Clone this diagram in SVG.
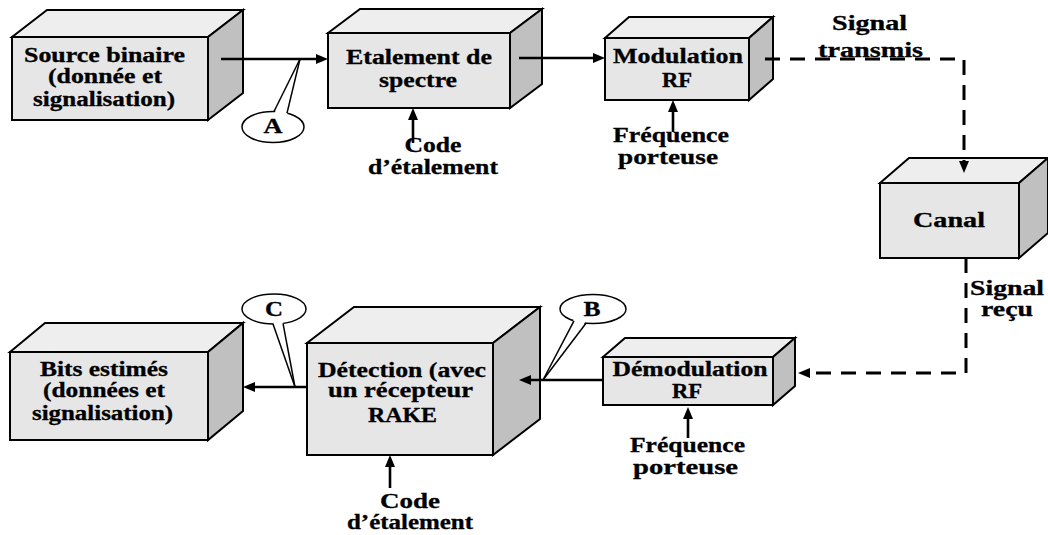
<svg xmlns="http://www.w3.org/2000/svg" width="1048" height="535" viewBox="0 0 1048 535">
  <style>
    .front { fill: #e6e6e6; stroke: #000; stroke-width: 2; stroke-linejoin: miter; }
    .top { fill: #eeeeee; stroke: #000; stroke-width: 2; stroke-linejoin: miter; }
    .side { fill: #c0c0c0; stroke: #000; stroke-width: 2; stroke-linejoin: miter; }
    text { font-family: "Liberation Serif", "Noto Serif", "DejaVu Serif", "Times New Roman", serif; font-weight: 700; font-size: 20px; fill: #000; stroke: #000; stroke-width: 0.3; text-anchor: middle; }
    .flow { fill: none; stroke: #000; stroke-width: 2.6; }
    .dash { fill: none; stroke: #000; stroke-width: 3; stroke-dasharray: 15 10; }
    .bubble { fill: #fff; stroke: #000; stroke-width: 1.5; }
    .tail { fill: #fff; stroke: none; }
    .tailedge { fill: none; stroke: #000; stroke-width: 1.5; }
  </style>
  <defs>
    <marker id="head" markerUnits="userSpaceOnUse" markerWidth="14" markerHeight="12" refX="2" refY="5" orient="auto">
      <path d="M0,0 L12,5 L0,10 z" fill="#000"/>
    </marker>
  </defs>

  <rect width="1048" height="535" fill="#fff"/>

  <!-- Transmitter chain -->
  <g id="source">
    <polygon class="top" points="12,37 47,10 243,10 208,37"/>
    <polygon class="side" points="208,37 243,10 243,93 208,120"/>
    <rect class="front" x="12" y="37" width="196" height="83"/>
    <text x="104.5" y="62" textLength="161" lengthAdjust="spacingAndGlyphs">Source binaire</text>
    <text x="105" y="83" textLength="114" lengthAdjust="spacingAndGlyphs">(donnée et</text>
    <text x="104" y="106" textLength="142" lengthAdjust="spacingAndGlyphs">signalisation)</text>
  </g>

  <g id="etalement">
    <polygon class="top" points="328,33 360,9 542,9 510,33"/>
    <polygon class="side" points="510,33 542,9 542,84 510,108"/>
    <rect class="front" x="328" y="33" width="182" height="75"/>
    <text x="419" y="64" textLength="146" lengthAdjust="spacingAndGlyphs">Etalement de</text>
    <text x="418" y="87" textLength="78" lengthAdjust="spacingAndGlyphs">spectre</text>
  </g>

  <g id="code-tx">
    <text x="433" y="152" textLength="57" lengthAdjust="spacingAndGlyphs">Code</text>
    <text x="433" y="174" textLength="130" lengthAdjust="spacingAndGlyphs">d’étalement</text>
  </g>

  <g id="modulation">
    <polygon class="top" points="605,38 629,17 773,17 749,38"/>
    <polygon class="side" points="749,38 773,17 773,79 749,100"/>
    <rect class="front" x="605" y="38" width="144" height="62"/>
    <text x="678" y="63" textLength="130" lengthAdjust="spacingAndGlyphs">Modulation</text>
    <text x="677" y="87" textLength="30" lengthAdjust="spacingAndGlyphs">RF</text>
  </g>

  <g id="freq-tx">
    <text x="671" y="142" textLength="116" lengthAdjust="spacingAndGlyphs">Fréquence</text>
    <text x="668" y="164" textLength="100" lengthAdjust="spacingAndGlyphs">porteuse</text>
  </g>

  <g id="label-transmis">
    <text x="869.5" y="30" textLength="75" lengthAdjust="spacingAndGlyphs">Signal</text>
    <text x="870.5" y="57" textLength="105" lengthAdjust="spacingAndGlyphs">transmis</text>
  </g>

  <g id="canal">
    <polygon class="top" points="880,183 909,158 1048,158 1019,183"/>
    <polygon class="side" points="1019,183 1048,158 1048,233 1019,258"/>
    <rect class="front" x="880" y="183" width="139" height="75"/>
    <text x="949" y="227" textLength="72" lengthAdjust="spacingAndGlyphs">Canal</text>
  </g>

  <g id="label-recu">
    <text x="1007" y="295" textLength="74" lengthAdjust="spacingAndGlyphs">Signal</text>
    <text x="1007" y="316" textLength="52" lengthAdjust="spacingAndGlyphs">reçu</text>
  </g>

  <!-- Receiver chain -->
  <g id="demodulation">
    <polygon class="top" points="603,357 625,338 795,338 773,357"/>
    <polygon class="side" points="773,357 795,338 795,386 773,405"/>
    <rect class="front" x="603" y="357" width="170" height="48"/>
    <text x="690" y="376" textLength="155" lengthAdjust="spacingAndGlyphs">Démodulation</text>
    <text x="687" y="398" textLength="30" lengthAdjust="spacingAndGlyphs">RF</text>
  </g>

  <g id="freq-rx">
    <text x="687.5" y="452" textLength="115" lengthAdjust="spacingAndGlyphs">Fréquence</text>
    <text x="685.5" y="474" textLength="105" lengthAdjust="spacingAndGlyphs">porteuse</text>
  </g>

  <g id="detection">
    <polygon class="top" points="307,343 354,307 540,307 493,343"/>
    <polygon class="side" points="493,343 540,307 540,419 493,455"/>
    <rect class="front" x="307" y="343" width="186" height="112"/>
    <text x="402" y="377" textLength="168" lengthAdjust="spacingAndGlyphs">Détection (avec</text>
    <text x="400.5" y="397" textLength="145" lengthAdjust="spacingAndGlyphs">un récepteur</text>
    <text x="402.5" y="422" textLength="69" lengthAdjust="spacingAndGlyphs">RAKE</text>
  </g>

  <g id="code-rx">
    <text x="410" y="508" textLength="60" lengthAdjust="spacingAndGlyphs">Code</text>
    <text x="410" y="529" textLength="126" lengthAdjust="spacingAndGlyphs">d’étalement</text>
  </g>

  <g id="bits">
    <polygon class="top" points="10,352 45,323 243,323 208,352"/>
    <polygon class="side" points="208,352 243,323 243,411 208,440"/>
    <rect class="front" x="10" y="352" width="198" height="88"/>
    <text x="104" y="376" textLength="128" lengthAdjust="spacingAndGlyphs">Bits estimés</text>
    <text x="104" y="397" textLength="122" lengthAdjust="spacingAndGlyphs">(données et</text>
    <text x="102.5" y="420" textLength="141" lengthAdjust="spacingAndGlyphs">signalisation)</text>
  </g>

  <!-- Connectors -->
  <g id="connectors">
    <line class="flow" x1="221" y1="59" x2="318" y2="59" marker-end="url(#head)"/>
    <line class="flow" x1="519" y1="58" x2="595" y2="58" marker-end="url(#head)"/>
    <line class="flow" x1="413" y1="143" x2="413" y2="118" marker-end="url(#head)"/>
    <line class="flow" x1="673" y1="132" x2="673" y2="110" marker-end="url(#head)"/>
    <polyline class="dash" points="765,59 964,59 964,163" marker-end="url(#head)"/>
    <polyline class="dash" points="966,258 966,373 808,373" marker-end="url(#head)"/>
    <line class="flow" x1="603" y1="380" x2="529" y2="380" marker-end="url(#head)"/>
    <line class="flow" x1="688" y1="438" x2="688" y2="417" marker-end="url(#head)"/>
    <line class="flow" x1="307" y1="387" x2="253" y2="387" marker-end="url(#head)"/>
    <line class="flow" x1="390" y1="488" x2="390" y2="465" marker-end="url(#head)"/>
  </g>

  <!-- Measurement point callouts -->
  <g id="callout-a">
    <ellipse class="bubble" cx="273" cy="127" rx="31" ry="15.5"/>
    <polygon class="tail" points="300,59 274,114 287,115"/>
    <line class="tailedge" x1="300" y1="59" x2="274" y2="111.5"/>
    <line class="tailedge" x1="300" y1="59" x2="287" y2="113.2"/>
    <text x="273" y="133" textLength="19" lengthAdjust="spacingAndGlyphs">A</text>
  </g>

  <g id="callout-b">
    <ellipse class="bubble" cx="593" cy="309" rx="33" ry="14.5"/>
    <polygon class="tail" points="543,380 574,319 586,321"/>
    <line class="tailedge" x1="543" y1="380" x2="574" y2="320.9"/>
    <line class="tailedge" x1="543" y1="380" x2="586" y2="323.2"/>
    <text x="592" y="316" textLength="17" lengthAdjust="spacingAndGlyphs">B</text>
  </g>

  <g id="callout-c">
    <ellipse class="bubble" cx="274" cy="309" rx="32" ry="15"/>
    <polygon class="tail" points="295,387 273,322 283,321.5"/>
    <line class="tailedge" x1="295" y1="387" x2="273" y2="324"/>
    <line class="tailedge" x1="295" y1="387" x2="283" y2="323.4"/>
    <text x="274" y="316" textLength="18" lengthAdjust="spacingAndGlyphs">C</text>
  </g>
</svg>
